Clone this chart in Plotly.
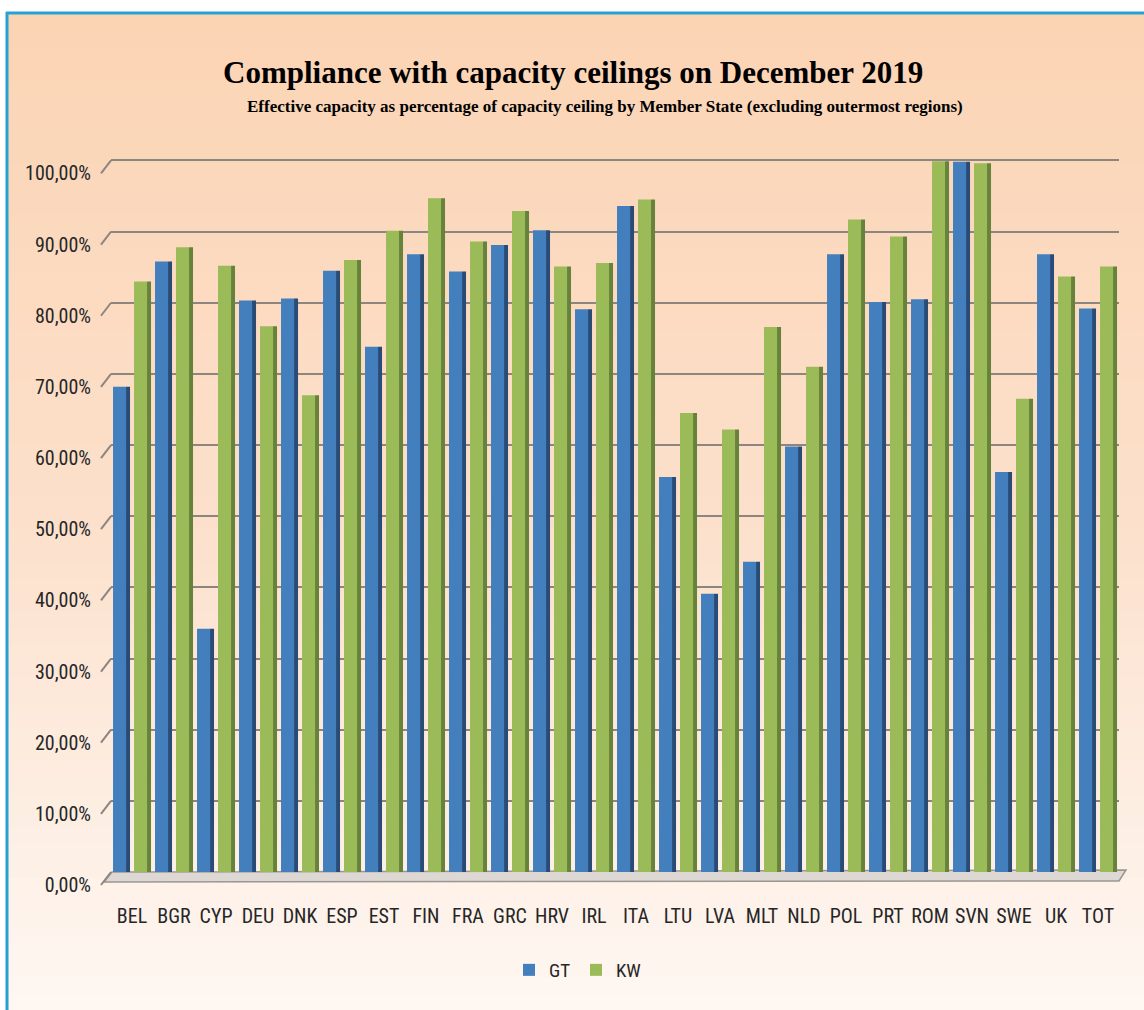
import plotly.graph_objects as go

# Daten
laender = ["BEL", "BGR", "CYP", "DEU", "DNK", "ESP", "EST", "FIN", "FRA", "GRC", "HRV", "IRL",
           "ITA", "LTU", "LVA", "MLT", "NLD", "POL", "PRT", "ROM", "SVN", "SWE", "UK", "TOT"]
gt = [68.2, 85.8, 34.2, 80.3, 80.6, 84.5, 73.8, 86.8, 84.4, 88.1, 90.2, 79.1,
      93.6, 55.5, 39.1, 43.6, 59.8, 86.8, 80.1, 80.5, 99.8, 56.2, 86.8, 79.2]
kw = [83.0, 87.8, 85.2, 76.7, 67.0, 86.0, 90.1, 94.7, 88.6, 92.9, 85.1, 85.6,
      94.5, 64.5, 62.2, 76.6, 71.0, 91.7, 89.3, 99.9, 99.6, 66.5, 83.7, 85.1]
y_ticks = [0, 10, 20, 30, 40, 50, 60, 70, 80, 90, 100]
y_labels = [f"{v:.2f}".replace(".", ",") + "%" for v in y_ticks]

titel = "Compliance with capacity ceilings on December 2019"
untertitel = "Effective capacity as percentage of capacity ceiling by Member State (excluding outermost regions)"

W, H = 1144, 1010
L, R, T, B = 111, 25, 159, 138
PW, PH = W - L - R, H - T - B
Y_MAX = 100.2


def px_x(p):
    return (p - L) / PW


def px_y(p):
    return (H - B - p) / PH


def mix(c1, c2, f):
    return "rgb(%d,%d,%d)" % tuple(round(a + (b - a) * f) for a, b in zip(c1, c2))


fig = go.Figure()

# Frontseiten + Seitenflächen der "3D"-Säulen
fig.add_trace(go.Bar(x=laender, y=gt, name="GT", marker=dict(color="#437EBD", line_width=0),
                     offset=-0.452, width=0.31))
fig.add_trace(go.Bar(x=laender, y=gt, name="GT", showlegend=False, hoverinfo="skip",
                     marker=dict(color="#284B78", line_width=0), offset=-0.142, width=0.095))
fig.add_trace(go.Bar(x=laender, y=kw, name="KW", marker=dict(color="#9BBB59", line_width=0),
                     offset=0.048, width=0.31))
fig.add_trace(go.Bar(x=laender, y=kw, name="KW", showlegend=False, hoverinfo="skip",
                     marker=dict(color="#67823A", line_width=0), offset=0.358, width=0.095))

shapes = []
# Hintergrundverlauf
top_c, mid_c, bot_c = (251, 212, 180), (252, 224, 203), (254, 247, 242)
n = 60
y_start = 14
step = (H - y_start) / n
for i in range(n):
    y0 = y_start + i * step
    f = i / (n - 1)
    col = mix(top_c, mid_c, f * 2) if f < 0.5 else mix(mid_c, bot_c, (f - 0.5) * 2)
    shapes.append(dict(type="rect", xref="paper", yref="paper", layer="below",
                       x0=px_x(8), x1=px_x(W), y0=px_y(y0 + step + 1), y1=px_y(y0),
                       fillcolor=col, line_width=0))
# Boden (Parallelogramm)
boden = "M {:.5f},{:.5f} L {:.5f},{:.5f} L {:.5f},{:.5f} L {:.5f},{:.5f} Z".format(
    px_x(104), px_y(882), px_x(112), px_y(872), px_x(1126), px_y(870), px_x(1119), px_y(881))
shapes.append(dict(type="path", xref="paper", yref="paper", path=boden, layer="below",
                   fillcolor="#DDD8D3", line=dict(color="#9C9691", width=1.5)))
# blauer Rahmen
shapes.append(dict(type="line", xref="paper", yref="paper", x0=px_x(6), x1=px_x(W),
                   y0=px_y(13), y1=px_y(13), line=dict(color="#27A0D5", width=3)))
shapes.append(dict(type="line", xref="paper", yref="paper", x0=px_x(7), x1=px_x(7),
                   y0=px_y(12), y1=px_y(H), line=dict(color="#27A0D5", width=3)))
# Wandkante: schräge Striche an den Gitterlinien
for v in y_ticks:
    yp = v / Y_MAX
    shapes.append(dict(type="line", xref="paper", yref="paper",
                       x0=px_x(101), x1=px_x(111), y0=yp - 13 / PH, y1=yp,
                       line=dict(color="#8C8580", width=2)))

fig.update_layout(
    width=W, height=H,
    margin=dict(l=L, r=R, t=T, b=B),
    paper_bgcolor="white",
    plot_bgcolor="rgba(0,0,0,0)",
    barmode="overlay",
    shapes=shapes,
    font=dict(family="Roboto Condensed, Liberation Sans Narrow, Roboto, Liberation Sans", color="#262626"),
    legend=dict(orientation="h", x=px_x(576), xanchor="center", y=px_y(970), yanchor="middle",
                font=dict(size=19), itemwidth=30, entrywidth=22, traceorder="normal",
                bgcolor="rgba(0,0,0,0)"),
    annotations=[
        dict(text="<b>" + titel + "</b>", xref="paper", yref="paper", x=px_x(573), y=px_y(72),
             xanchor="center", yanchor="middle", showarrow=False,
             font=dict(family="Liberation Serif, Times New Roman, serif", size=31, color="black")),
        dict(text="<b>" + untertitel + "</b>", xref="paper", yref="paper", x=px_x(605), y=px_y(106),
             xanchor="center", yanchor="middle", showarrow=False,
             font=dict(family="Liberation Serif, Times New Roman, serif", size=17, color="black")),
    ],
)

fig.update_yaxes(range=[0, Y_MAX], tickvals=y_ticks, ticktext=y_labels,
                 showgrid=True, gridcolor="#8C8580", gridwidth=2, zeroline=False,
                 tickfont=dict(size=20), ticklabelstandoff=19, ticklabelshift=13)
fig.update_xaxes(range=[-0.5, 23.5], showgrid=False, tickfont=dict(size=20),
                 ticklabelstandoff=30, ticks="")

fig.write_html("out.html", config={"displayModeBar": False},
               post_script="document.body.style.margin='0';document.body.style.overflow='hidden';")
